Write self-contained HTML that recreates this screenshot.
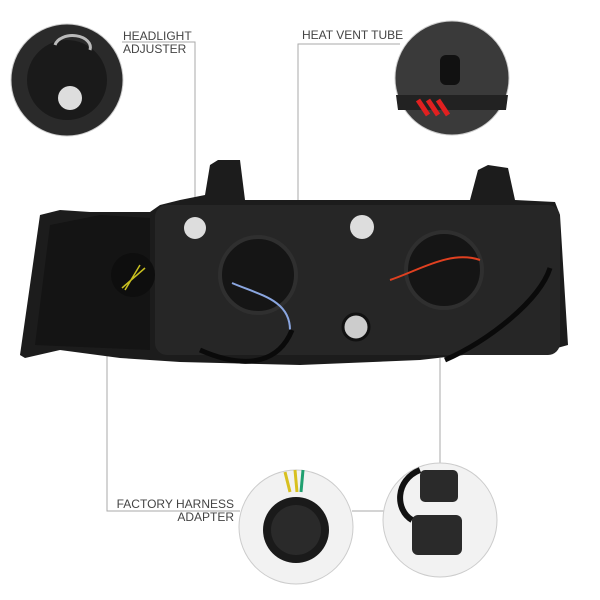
<!DOCTYPE html>
<html><head><style>
body{margin:0;background:#fff;width:600px;height:600px;overflow:hidden;font-family:"Liberation Sans",sans-serif}
.t{position:absolute;font-size:12px;color:#444;line-height:13px;white-space:nowrap}
</style></head><body>
<svg width="600" height="600" style="position:absolute;left:0;top:0">
<g stroke="#aaa" stroke-width="1" fill="none">
<polyline points="122,42 195,42 195,215"/>
<polyline points="400,44 298,44 298,217"/>
<polyline points="107,235 107,511 240,511"/>
<line x1="352" y1="511" x2="385" y2="511"/>
<line x1="440" y1="358" x2="440" y2="465"/>
</g>
<path d="M20,355 L40,215 L60,210 L90,212 L150,212 L160,205 L180,200 L205,195 L210,165 L218,160 L240,160 L245,200 L470,200 L478,170 L488,165 L508,168 L515,200 L555,202 L560,215 L568,345 L550,350 L490,352 L420,360 L300,365 L180,362 L120,358 L60,350 L25,358 Z" fill="#1c1c1c"/>
<path d="M35,345 L50,225 L100,215 L150,218 L150,350 Z" fill="#141414"/>
<rect x="155" y="205" width="405" height="150" rx="12" fill="#262626"/>
<circle cx="258" cy="275" r="38" fill="#151515" stroke="#2f2f2f" stroke-width="4"/>
<circle cx="444" cy="270" r="38" fill="#151515" stroke="#2f2f2f" stroke-width="4"/>
<circle cx="133" cy="275" r="22" fill="#0e0e0e"/>
<circle cx="195" cy="228" r="11" fill="#ddd"/>
<circle cx="362" cy="227" r="12" fill="#ddd"/>
<circle cx="356" cy="327" r="13" fill="#ccc" stroke="#111" stroke-width="3"/>
<path d="M232,283 C260,295 290,300 290,330" stroke="#8aa6e0" stroke-width="2" fill="none"/>
<path d="M390,280 C420,270 450,250 480,260" stroke="#e04020" stroke-width="2" fill="none"/>
<path d="M200,350 C250,372 280,360 292,330" stroke="#0a0a0a" stroke-width="5" fill="none"/>
<path d="M445,360 C490,340 540,300 550,268" stroke="#0a0a0a" stroke-width="5" fill="none"/>
<path d="M125,290 L140,265 M122,288 L145,268" stroke="#c8c020" stroke-width="1.5"/>
<circle cx="67" cy="80" r="56" fill="#2a2a2a" stroke="#ccc" stroke-width="1"/>
<circle cx="67" cy="80" r="40" fill="#1a1a1a"/>
<circle cx="70" cy="98" r="12" fill="#ddd"/>
<path d="M55,45 A15,10 0 1 1 90,50" stroke="#bbb" stroke-width="3" fill="none"/>
<circle cx="452" cy="78" r="57" fill="#3a3a3a" stroke="#ccc" stroke-width="1"/>
<path d="M396,95 L508,95 L506,110 L398,110 Z" fill="#222"/>
<rect x="440" y="55" width="20" height="30" rx="6" fill="#111"/>
<path d="M418,100 l10,15 M428,100 l10,15 M438,100 l10,15" stroke="#e02020" stroke-width="5"/>
<circle cx="296" cy="527" r="57" fill="#f2f2f2" stroke="#ccc" stroke-width="1"/>
<circle cx="296" cy="530" r="33" fill="#1a1a1a"/>
<circle cx="296" cy="530" r="25" fill="#2a2a2a"/>
<path d="M285,472 L290,492 M295,470 L297,492" stroke="#d8c020" stroke-width="3"/>
<path d="M303,470 L301,492" stroke="#20a070" stroke-width="3"/>
<circle cx="440" cy="520" r="57" fill="#f2f2f2" stroke="#ccc" stroke-width="1"/>
<rect x="420" y="470" width="38" height="32" rx="5" fill="#2a2a2a"/>
<rect x="412" y="515" width="50" height="40" rx="6" fill="#2a2a2a"/>
<path d="M420,470 C395,480 395,510 412,520" stroke="#111" stroke-width="6" fill="none"/>
</svg>
<div class="t" style="left:123px;top:30px">HEADLIGHT<br>ADJUSTER</div>
<div class="t" style="left:302px;top:29px">HEAT VENT TUBE</div>
<div class="t" style="left:104px;top:498px;text-align:right;width:130px">FACTORY HARNESS<br>ADAPTER</div>
</body></html>
